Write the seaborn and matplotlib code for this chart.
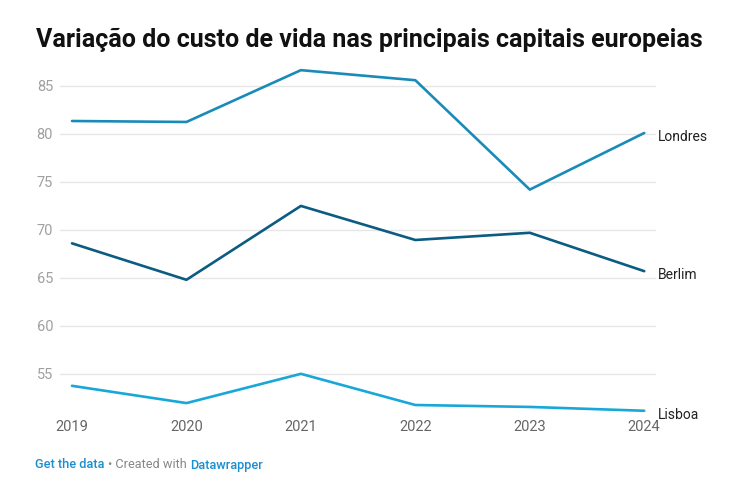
import matplotlib
matplotlib.use("Agg")
import matplotlib.pyplot as plt
import seaborn as sns
import pandas as pd

years = [2019, 2020, 2021, 2022, 2023, 2024]
londres = [81.35, 81.25, 86.65, 85.6, 74.2, 80.1]
berlim = [68.6, 64.8, 72.5, 68.95, 69.7, 65.7]
lisboa = [53.75, 51.95, 55.0, 51.75, 51.55, 51.15]
cities = ["Londres", "Berlim", "Lisboa"]
colors = {"Londres": "#1a8bb8", "Berlim": "#0b5b82", "Lisboa": "#17a8d9"}
yticks = [55, 60, 65, 70, 75, 80, 85]

df = pd.DataFrame({
    "Ano": years * 3,
    "Valor": londres + berlim + lisboa,
    "Cidade": ["Londres"] * 6 + ["Berlim"] * 6 + ["Lisboa"] * 6,
})

sns.set_theme(style="white")
plt.rcParams["font.family"] = ["Roboto", "DejaVu Sans"]

fig = plt.figure(figsize=(7.5, 5), dpi=100)
ax = fig.add_axes([0.08, 0.166, 0.795, 0.71])
sns.lineplot(data=df, x="Ano", y="Valor", hue="Cidade", palette=colors,
             linewidth=1.9, ax=ax, legend=False)

ax.set_xlim(2018.895, 2024.105)
ax.set_ylim(50.5, 87.5)
ax.set_yticks(yticks)
ax.set_xticks(years)
ax.set_xticklabels([str(y) for y in years])
ax.grid(axis="y", color="#e6e6e6", linewidth=1)
ax.set_axisbelow(True)
for s in ax.spines.values():
    s.set_visible(False)
ax.set_xlabel("")
ax.set_ylabel("")
ax.tick_params(axis="y", length=0, pad=5, labelsize=10.5, labelcolor="#a0a0a0")
ax.tick_params(axis="x", length=0, pad=2, labelsize=10.5, labelcolor="#666666")

ends = {"Londres": londres[-1], "Berlim": berlim[-1], "Lisboa": lisboa[-1]}
for c in cities:
    ax.annotate(c, xy=(years[-1], ends[c]), xytext=(10, -3), textcoords="offset points",
                va="center", ha="left", fontsize=10, color="#222222",
                annotation_clip=False)

fig.text(0.048, 0.905, "Variação do custo de vida nas principais capitais europeias",
         fontsize=18, fontweight="bold", color="#111111", ha="left", va="baseline")

fs = 9.2
t1 = fig.text(0.047, 0.063, "Get the data", fontsize=fs, color="#1a8fd0",
              fontweight="medium", ha="left", va="baseline")
fig.canvas.draw()
r = fig.canvas.get_renderer()
bb = t1.get_window_extent(r)
t2 = fig.text(bb.x1 / 750 + 0.004, 0.063, "• Created with", fontsize=fs, color="#888888",
              ha="left", va="baseline")
bb2 = t2.get_window_extent(r)
fig.text(bb2.x1 / 750 + 0.005, 0.063, "Datawrapper", fontsize=fs, color="#1a8fd0",
         fontweight="medium", ha="left", va="baseline")

fig.savefig("out.png", dpi=100, facecolor="white")
